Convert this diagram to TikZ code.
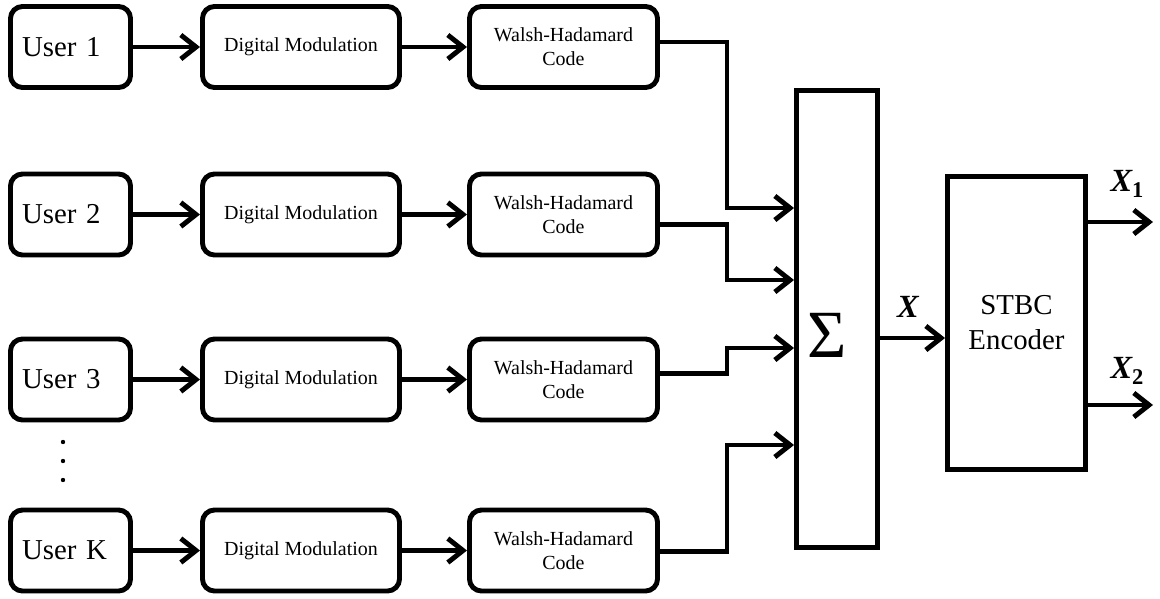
\documentclass[tikz,border=0pt]{standalone}
\usepackage{fontspec}
\setmainfont{Liberation Serif}
\newfontfamily\labelfont{Liberation Serif}
\usetikzlibrary{arrows.meta}
\begin{document}
\begin{tikzpicture}[x=0.025cm,y=-0.025cm,
  blk/.style={draw,line width=3.5pt,rounded corners=0.3cm,inner sep=0pt,minimum height=2.025cm},
  userbox/.style={blk,minimum width=3cm,text width=2.42cm,align=left,font=\labelfont\fontsize{20.5}{24}\selectfont},
  modbox/.style={blk,minimum width=4.925cm,font=\labelfont\fontsize{14.2}{17}\selectfont},
  codebox/.style={blk,minimum width=4.7cm,align=center,font=\labelfont\fontsize{14.2}{17}\selectfont},
  bigbox/.style={draw,line width=3.5pt,inner sep=0pt},
  wire/.style={line width=3.5pt,-{Straight Barb[length=0.38cm,width=0.6cm]}},
  sig/.style={inner sep=0pt,font=\labelfont\fontsize{23}{26}\selectfont\bfseries\itshape},
  dot/.style={fill,circle,inner sep=0pt,minimum size=0.11cm}
]
\useasboundingbox (0,0) rectangle (1160,599);

% user chains
\node[userbox] (user1) at (70.5,47)    {User 1};
\node[userbox] (user2) at (70.5,214.5) {User 2};
\node[userbox] (user3) at (70.5,379.5) {User 3};
\node[userbox] (userK) at (70.5,550.5) {User K};

\node[modbox] (mod1) at (301,47)    {Digital Modulation};
\node[modbox] (mod2) at (301,214.5) {Digital Modulation};
\node[modbox] (mod3) at (301,379.5) {Digital Modulation};
\node[modbox] (modK) at (301,550.5) {Digital Modulation};

\node[codebox] (code1) at (563.5,47)    {Walsh-Hadamard\\Code};
\node[codebox] (code2) at (563.5,214.5) {Walsh-Hadamard\\Code};
\node[codebox] (code3) at (563.5,379.5) {Walsh-Hadamard\\Code};
\node[codebox] (codeK) at (563.5,550.5) {Walsh-Hadamard\\Code};

% vertical ellipsis between user 3 and user K
\node[dot] (d1) at (63,442) {};
\node[dot] (d2) at (63,461) {};
\node[dot] (d3) at (63,480) {};

% summation and STBC blocks
\node[bigbox,minimum width=2.025cm,minimum height=11.425cm] (sum) at (837,319) {};
\node[inner sep=0pt,font=\labelfont\fontsize{48}{48}\selectfont] (sumsym) at (827,335) {Σ};
\node[bigbox,minimum width=3.45cm,minimum height=7.325cm,align=center,
      font=\labelfont\fontsize{20.5}{25}\selectfont] (stbc) at (1016.5,323) {STBC\\Encoder};

\foreach \k in {1,2,3,K}{
  \draw[wire] (user\k.east) -- (mod\k.west);
  \draw[wire] (mod\k.east) -- (code\k.west);
}

% code outputs into the adder
\coordinate (j1) at (727,208);
\coordinate (j2) at (727,280);
\coordinate (j3) at (727,348);
\coordinate (jK) at (727,445);
\draw[wire] ([yshift=0.125cm]code1.east) -| (j1) -- (j1 -| sum.west);
\draw[wire] ([yshift=-0.26cm]code2.east) -| (j2) -- (j2 -| sum.west);
\draw[wire] ([yshift=0.14cm]code3.east) -| (j3) -- (j3 -| sum.west);
\draw[wire] ([yshift=-0.03cm]codeK.east) -| (jK) -- (jK -| sum.west);

% adder to encoder, encoder outputs
\coordinate (xo) at ([yshift=-0.475cm]sum.east);
\draw[wire] (xo) -- (xo -| stbc.west);
\coordinate (o1) at (1153,222);
\coordinate (o2) at (1153,405);
\draw[wire] (o1 -| stbc.east) -- (o1);
\draw[wire] (o2 -| stbc.east) -- (o2);

\node[sig] (lx)  at (908,307) {X};
\node[sig] (lx1) at (1127,184) {X\raisebox{-0.35ex}{\fontsize{16}{18}\selectfont\upshape 1}};
\node[sig] (lx2) at (1127,371) {X\raisebox{-0.35ex}{\fontsize{16}{18}\selectfont\upshape 2}};
\end{tikzpicture}
\end{document}
